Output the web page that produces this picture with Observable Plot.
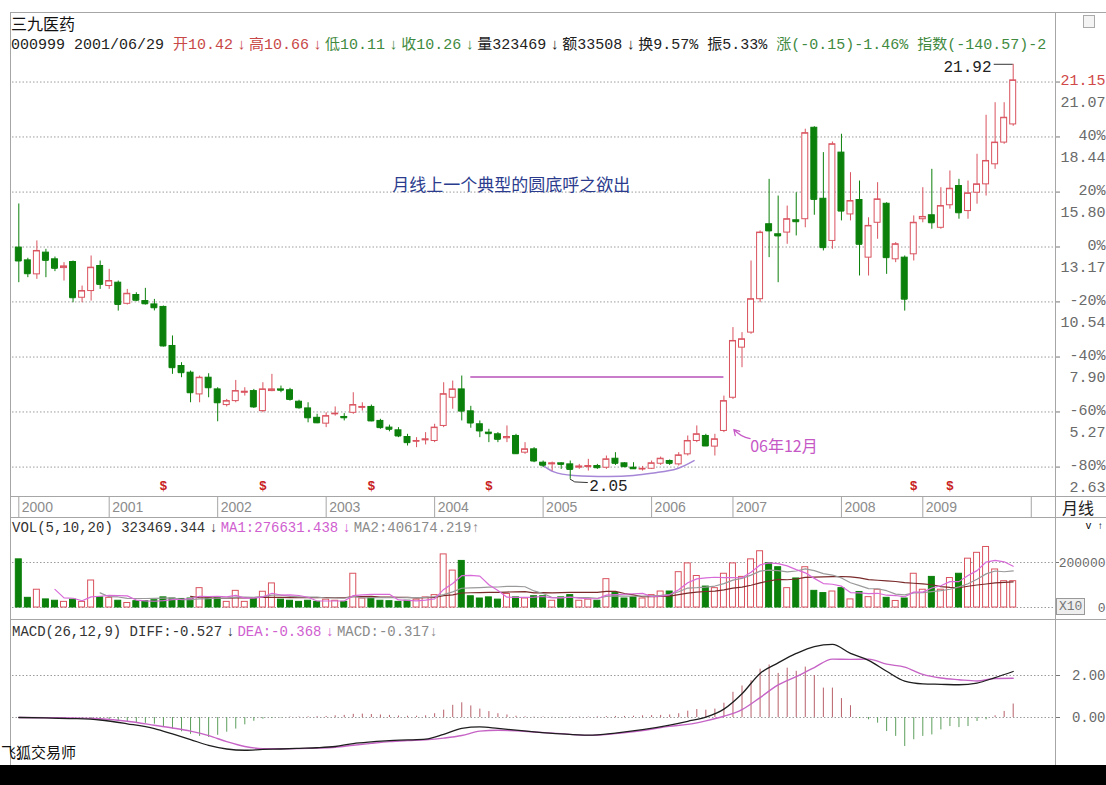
<!DOCTYPE html>
<html>
<head>
<meta charset="utf-8">
<script src="https://cdn.jsdelivr.net/npm/d3@7"></script>
<script src="https://cdn.jsdelivr.net/npm/@observablehq/plot@0.6"></script>
<style>
  html,body{margin:0;padding:0;background:#fff;}
  #root{position:relative;width:1106px;height:785px;overflow:hidden;background:#fff;}
  .abs{position:absolute;}
  .hl{position:absolute;height:0;border-top:1px solid #a6a6a6;}
  .vl{position:absolute;width:0;border-left:1px solid #a6a6a6;}
  .txt{position:absolute;white-space:pre;font-family:"Liberation Mono","Noto Sans CJK SC",monospace;color:#222;}
  .ar{display:inline-block;margin:0 3px 0 4px;}
  svg{display:block}
</style>
</head>
<body>
<div id="root"></div>
<script>
// ---------------- DATA ----------------
const yearLabels = ["2000","2001","2002","2003","2004","2005","2006","2007","2008","2009",""];
const yearStart  = [0, 10, 22, 34, 46, 58, 70, 79, 91, 100, 112];

const opens = [13.14,12.53,11.86,12.90,12.58,12.16,12.45,10.74,11.06,12.26,
  11.30,11.46,10.45,10.87,10.58,10.42,10.30,8.43,7.47,7.15,
  6.11,6.91,6.35,5.60,5.79,6.19,6.27,5.31,6.27,6.35,
  6.31,5.76,5.44,4.99,4.71,5.16,5.03,5.23,5.47,5.51,
  4.84,4.52,4.39,4.07,3.85,3.91,3.88,4.60,5.95,6.35,
  5.30,4.68,4.28,4.20,4.01,4.12,3.32,3.48,2.84,2.76,
  2.81,2.76,2.60,2.63,2.68,2.60,3.03,2.81,2.60,2.52,
  2.55,2.79,2.92,2.76,3.24,3.88,4.12,3.61,4.36,5.95,
  8.35,9.07,10.67,14.26,13.78,13.86,14.45,14.50,18.88,15.48,
  13.46,17.69,14.73,15.42,12.66,14.33,15.24,12.58,12.66,12.82,
  14.50,14.69,14.09,15.17,16.09,14.89,15.77,16.17,17.13,18.17,
  19.04];
const highs = [15.23,12.63,13.46,13.06,12.69,12.42,12.50,11.30,12.74,12.50,
  12.10,11.54,11.14,10.98,11.19,10.66,10.34,8.91,7.63,7.23,
  6.99,7.10,6.43,5.87,6.78,6.43,6.35,6.67,7.07,6.51,
  6.40,5.83,5.71,5.16,5.23,5.51,5.19,6.19,5.71,5.60,
  4.92,4.64,4.52,4.20,4.04,4.28,4.68,6.67,6.75,6.99,
  5.54,4.84,4.44,4.28,4.60,4.20,3.80,3.56,2.92,2.87,
  2.84,2.92,2.76,3.00,2.76,3.16,3.32,2.84,2.84,2.66,
  2.92,3.11,2.97,3.32,4.12,4.60,4.20,4.20,6.03,9.31,
  9.07,12.50,13.94,16.41,15.61,15.13,15.77,18.81,18.93,17.69,
  18.20,18.57,16.73,16.33,14.57,16.25,15.29,13.38,12.74,14.66,
  16.01,16.89,16.01,16.81,16.41,16.33,17.61,19.48,20.08,20.08,
  21.92];
const lows = [11.46,11.70,11.62,11.70,11.99,11.54,10.50,10.50,10.58,11.14,
  11.14,10.10,10.39,10.55,10.39,10.11,8.38,7.07,6.91,5.71,
  5.71,5.95,4.80,5.51,5.71,6.03,5.44,5.23,6.24,6.19,
  5.79,5.40,4.75,4.71,4.52,5.07,4.84,5.16,5.31,4.80,
  4.44,4.32,4.04,3.64,3.56,3.69,3.80,4.52,5.40,4.84,
  4.49,4.04,3.80,3.80,3.80,3.24,3.24,2.84,2.60,2.44,
  2.52,2.05,2.52,2.44,2.52,2.52,2.71,2.60,2.52,2.44,
  2.52,2.71,2.71,2.68,3.16,3.80,3.61,3.16,4.28,5.87,
  7.39,8.99,10.50,12.66,11.46,13.30,13.70,14.09,14.69,12.98,
  13.06,14.42,14.42,11.78,11.78,13.54,11.86,12.42,10.10,12.50,
  14.33,14.02,14.02,14.98,14.50,14.50,15.22,15.61,16.89,18.09,
  18.95];
const closes = [12.50,11.89,12.98,12.53,12.15,12.24,10.74,11.06,12.18,11.38,
  11.54,10.42,10.93,10.62,10.45,10.26,8.43,7.39,7.15,6.19,
  6.91,6.43,5.71,5.79,6.27,6.24,5.51,6.35,6.35,6.31,
  5.87,5.47,4.99,4.75,5.07,5.19,4.99,5.60,5.51,4.84,
  4.52,4.44,4.12,3.80,3.88,3.96,4.52,6.12,6.35,5.31,
  4.74,4.36,4.23,3.96,4.07,3.27,3.48,2.92,2.72,2.81,
  2.76,2.52,2.66,2.68,2.60,3.00,2.81,2.65,2.55,2.55,
  2.81,3.03,2.81,3.19,3.88,4.20,3.64,3.96,5.79,8.67,
  8.75,10.67,13.86,13.94,13.70,14.50,14.38,18.62,15.45,13.14,
  18.09,14.89,15.37,13.30,14.18,15.45,12.66,13.30,10.67,14.33,
  14.61,14.33,15.13,15.96,14.81,15.74,16.17,17.29,18.17,19.36,
  21.15];
const volumes = [2140000,430000,790000,360000,300000,250000,350000,250000,1200000,450000,
  430000,300000,200000,280000,280000,323469,450000,400000,380000,400000,
  860000,400000,450000,250000,740000,250000,400000,700000,1070000,350000,
  300000,250000,300000,250000,350000,300000,250000,1500000,400000,450000,
  300000,280000,250000,300000,350000,450000,550000,2360000,1640000,2070000,
  500000,400000,450000,350000,600000,450000,400000,500000,500000,300000,
  450000,550000,300000,350000,300000,1260000,640000,400000,450000,400000,
  550000,710000,710000,1570000,1960000,1400000,930000,860000,1500000,1960000,
  1360000,2140000,2500000,1970000,1790000,860000,1290000,1790000,740000,640000,
  710000,860000,360000,690000,460000,790000,430000,290000,400000,1500000,
  790000,1360000,790000,1310000,1500000,2170000,2430000,2690000,1690000,1170000,
  1170000];
const macdHist = [0,0,0,-0.01,-0.02,-0.03,-0.05,-0.06,-0.05,-0.08,
  -0.10,-0.15,-0.20,-0.25,-0.28,-0.317,-0.45,-0.55,-0.68,-0.80,
  -0.90,-0.95,-0.85,-0.70,-0.55,-0.35,-0.18,-0.08,-0.05,-0.02,
  0.02,0.02,0.03,0.04,0.05,0.08,0.10,0.15,0.16,0.14,
  0.12,0.10,0.07,0.06,0.06,0.08,0.18,0.35,0.58,0.70,
  0.55,0.40,0.28,0.18,0.12,0.06,0.03,0.02,0.02,0.01,
  -0.02,0.02,0.02,0.02,0.03,0.04,0.05,0.05,0.06,0.08,
  0.09,0.10,0.12,0.18,0.30,0.38,0.35,0.40,0.68,1.20,
  1.50,1.75,2.30,2.50,2.10,2.35,2.20,2.40,2.00,1.40,
  1.40,0.90,0.56,-0.05,-0.11,-0.27,-0.67,-0.90,-1.38,-1.06,
  -0.90,-0.83,-0.59,-0.43,-0.48,-0.43,-0.19,-0.11,0.08,0.29,
  0.64];
const macdIdx  = [0,3,6,9,12,15,17,19,21,23,25,27,29,31,33,35,37,39,41,43,45,47,49,51,53,55,57,60,63,66,69,72,74,76,78,80,82,84,86,88,90,92,94,96,98,100,102,104,106,108,110];
const diffVals = [0,-0.02,-0.05,-0.12,-0.30,-0.527,-0.78,-1.05,-1.33,-1.50,-1.56,-1.52,-1.50,-1.47,-1.44,-1.38,-1.24,-1.16,-1.10,-1.07,-1.03,-0.80,-0.52,-0.45,-0.52,-0.60,-0.68,-0.78,-0.84,-0.74,-0.58,-0.36,-0.18,0.02,0.40,1.13,2.10,2.60,3.05,3.38,3.48,3.05,2.72,2.20,1.73,1.60,1.58,1.56,1.64,1.90,2.19];
const deaVals  = [0,-0.01,-0.02,-0.06,-0.18,-0.368,-0.50,-0.65,-0.86,-1.15,-1.38,-1.48,-1.49,-1.48,-1.46,-1.42,-1.32,-1.23,-1.15,-1.10,-1.06,-0.98,-0.86,-0.65,-0.61,-0.63,-0.69,-0.77,-0.85,-0.77,-0.62,-0.42,-0.33,-0.16,0.06,0.38,0.95,1.55,1.95,2.38,2.78,2.77,2.78,2.54,2.40,2.05,1.88,1.80,1.74,1.86,1.87];

const gridPrices  = [2.63,5.27,7.90,10.54,13.17,15.80,18.44,21.07];
const priceLabels = ["2.63","5.27","7.90","10.54","13.17","15.80","18.44","21.07"];
const pctTicks    = [2.63,5.27,7.90,10.54,13.17,15.80,18.44];
const pctLabels   = ["-80%","-60%","-40%","-20%","0%","20%","40%"];
const volTicks    = [0, 2000000];
const volLabels   = ["0","200000"];
const macdTicks   = [0, 2];
const macdLabels  = ["0.00","2.00"];
const exRightsIdx = [16, 27, 39, 52, 99, 103];

// annotations (bar index / price units)
const neckline   = {from: 50, to: 78, price: 6.95};
const arcIdx     = [57.7, 59.2, 61.4, 65.1, 68.0, 70.6, 72.8, 74.7];
const arcPrice   = [2.80, 2.40, 2.23, 2.18, 2.23, 2.37, 2.55, 2.94];
const lowLeadIdx = [61, 61.5, 62.9];
const lowLeadPr  = [2.05, 1.92, 1.89];
const noteText   = "月线上一个典型的圆底呼之欲出";
const noteAt     = {i: 41.3, p: 16.12};
const monthText  = "06年12月";
const monthAt    = {i: 80.9, p: 3.59};
const monthArrow = {i1: 80.9, p1: 3.99, i2: 79.1, p2: 4.43};

// ---------------- DRAWING ----------------
const N = opens.length;
const bars = d3.range(N).map(i => ({i, o: opens[i], h: highs[i], l: lows[i], c: closes[i], v: volumes[i], up: closes[i] >= opens[i]}));
const upBars = bars.filter(d => d.up), dnBars = bars.filter(d => !d.up);
const RED = "#d9525e", GREEN = "#0b800b", GRID = "#9c9c9c";
const MONO = "Liberation Mono, Noto Sans CJK SC, monospace";
const CJK = "Noto Sans CJK SC, sans-serif";
const W = 1106, BW = 0.33, RIGHT_DX = 50;
const X = {domain: [0, N - 1], range: [18.3, 1012.7], axis: null};
const root = document.getElementById("root");

function place(el, top, left = 0) {
  const d = document.createElement("div");
  d.className = "abs"; d.style.top = top + "px"; d.style.left = left + "px";
  d.appendChild(el); root.appendChild(d); return d;
}
function line(cls, css) {
  const d = document.createElement("div"); d.className = cls;
  Object.assign(d.style, css); root.appendChild(d);
}
function html(css, inner) {
  const d = document.createElement("div"); d.className = "txt";
  Object.assign(d.style, css); d.innerHTML = inner; root.appendChild(d); return d;
}
const AR = s => `<span class="ar">${s}</span>`;

// ---- price panel ----
const pricePlot = Plot.plot({
  width: W, height: 440, marginLeft: 12, marginRight: 51, marginTop: 0, marginBottom: 0,
  x: X,
  y: {domain: [2.634, 21.072], range: [410.5, 25.5], axis: null},
  style: {background: "transparent", overflow: "visible", fontFamily: MONO},
  marks: [
    Plot.ruleY(gridPrices, {stroke: GRID, strokeDasharray: "1.5,2"}),
    Plot.axisY(gridPrices, {anchor: "right", tickSize: 4, tickFormat: () => "", stroke: "#777"}),
    Plot.text(pctTicks, {y: d => d, text: (d, i) => pctLabels[i], frameAnchor: "right", dx: RIGHT_DX, dy: -2, textAnchor: "end", fill: "#6a6a6a", fontSize: 15}),
    Plot.text(gridPrices, {y: d => d, text: (d, i) => priceLabels[i], frameAnchor: "right", dx: RIGHT_DX, dy: 20, textAnchor: "end", fill: "#6a6a6a", fontSize: 15}),
    Plot.text([closes[N - 1]], {y: d => d, text: d => d.toFixed(2), frameAnchor: "right", dx: RIGHT_DX, textAnchor: "end", fill: "#d04848", fontSize: 15}),
    // annotations behind candles
    Plot.ruleY([neckline], {y: "price", x1: "from", x2: "to", stroke: "#c97cc9", strokeWidth: 2}),
    Plot.line(arcIdx.map((x, k) => ({x, p: arcPrice[k]})), {x: "x", y: "p", curve: "natural", stroke: "#a686d6", strokeWidth: 1.5}),
    // candles
    Plot.ruleX(upBars, {x: "i", y1: "l", y2: "h", stroke: RED}),
    Plot.ruleX(dnBars, {x: "i", y1: "l", y2: "h", stroke: GREEN}),
    Plot.rect(upBars, {x1: d => d.i - BW, x2: d => d.i + BW, y1: "o", y2: "c", fill: "#fff", stroke: RED}),
    Plot.rect(dnBars, {x1: d => d.i - BW, x2: d => d.i + BW, y1: "o", y2: "c", fill: GREEN, stroke: GREEN}),
    Plot.ruleY(upBars, {y: "c", x1: d => d.i - BW, x2: d => d.i + BW, stroke: RED}),
    Plot.ruleY(dnBars, {y: "c", x1: d => d.i - BW, x2: d => d.i + BW, stroke: GREEN}),
    // labels
    Plot.line(lowLeadIdx.map((x, k) => ({x, p: lowLeadPr[k]})), {x: "x", y: "p", stroke: "#333", strokeWidth: 1}),
    Plot.text([lows[61]], {x: 63.1, y: d => d, text: d => d.toFixed(2), dy: 7, textAnchor: "start", fill: "#222", fontSize: 16}),
    Plot.ruleY([highs[N - 1]], {x1: 107.9, x2: N - 1, stroke: "#333"}),
    Plot.text([highs[N - 1]], {x: 107.6, y: d => d, text: d => d.toFixed(2), dy: 3, textAnchor: "end", fill: "#222", fontSize: 16}),
    Plot.text([noteText], {x: noteAt.i, y: noteAt.p, text: d => d, textAnchor: "start", fill: "#2b3c8e", fontSize: 17, fontFamily: CJK}),
    Plot.arrow([monthArrow], {x1: "i1", y1: "p1", x2: "i2", y2: "p2", bend: 18, headLength: 9, stroke: "#c658c6", strokeWidth: 1.2}),
    Plot.text([monthText], {x: monthAt.i, y: monthAt.p, text: d => d, textAnchor: "start", fill: "#c658c6", fontSize: 16, fontFamily: CJK}),
    Plot.text(exRightsIdx, {x: d => d, text: () => "$", frameAnchor: "bottom", dy: -7, fill: "#c82020", fontWeight: "bold", fontSize: 13})
  ]
});
place(pricePlot, 56);

// ---- year band ----
const yearPlot = Plot.plot({
  width: W, height: 21, marginLeft: 12, marginRight: 51, marginTop: 0, marginBottom: 0,
  x: X, y: {axis: null},
  style: {background: "transparent", overflow: "visible"},
  marks: [
    Plot.ruleX(yearStart, {x: d => d, stroke: "#a6a6a6"}),
    Plot.text(yearStart, {x: d => d, text: (d, i) => yearLabels[i], dx: 3, textAnchor: "start", fill: "#8c8c8c", fontSize: 14, fontFamily: "Liberation Sans, Arial, sans-serif"})
  ]
});
place(yearPlot, 497);

// ---- volume panel ----
const volPlot = Plot.plot({
  width: W, height: 99, marginLeft: 12, marginRight: 51, marginTop: 0, marginBottom: 0,
  x: X,
  y: {domain: [0, 2000000], range: [89, 44], axis: null},
  style: {background: "transparent", overflow: "visible", fontFamily: MONO},
  marks: [
    Plot.ruleY(volTicks, {stroke: GRID, strokeDasharray: "1.5,2"}),
    Plot.axisY(volTicks, {anchor: "right", tickSize: 3, tickFormat: () => "", stroke: "#777"}),
    Plot.text(volTicks, {y: d => d, text: (d, i) => volLabels[i], frameAnchor: "right", dx: RIGHT_DX, textAnchor: "end", fill: "#6a6a6a", fontSize: 13}),
    Plot.rect(upBars, {x1: d => d.i - BW, x2: d => d.i + BW, y1: 0, y2: "v", fill: "#fff", stroke: RED}),
    Plot.rect(dnBars, {x1: d => d.i - BW, x2: d => d.i + BW, y1: 0, y2: "v", fill: GREEN, stroke: GREEN}),
    Plot.lineY(bars, Plot.windowY({k: 20, anchor: "end", strict: true}, {x: "i", y: "v", stroke: "#7a2a2a", strokeWidth: 1.2})),
    Plot.lineY(bars, Plot.windowY({k: 10, anchor: "end", strict: true}, {x: "i", y: "v", stroke: "#9a9a9a", strokeWidth: 1.2})),
    Plot.lineY(bars, Plot.windowY({k: 5, anchor: "end", strict: true}, {x: "i", y: "v", stroke: "#d86ad8", strokeWidth: 1.2}))
  ]
});
place(volPlot, 518);

// ---- MACD panel ----
const histData = macdHist.map((h, i) => ({i, h}));
const macdPts = macdIdx.map((i, k) => ({i, diff: diffVals[k], dea: deaVals[k]}));
const macdPlot = Plot.plot({
  width: W, height: 145, marginLeft: 12, marginRight: 51, marginTop: 0, marginBottom: 0,
  x: X,
  y: {domain: [0, 2], range: [97, 55], axis: null},
  style: {background: "transparent", overflow: "visible", fontFamily: MONO},
  marks: [
    Plot.ruleY(macdTicks, {stroke: GRID, strokeDasharray: "1.5,2"}),
    Plot.axisY(macdTicks, {anchor: "right", tickSize: 4, tickFormat: () => "", stroke: "#777"}),
    Plot.text(macdTicks, {y: d => d, text: (d, i) => macdLabels[i], frameAnchor: "right", dx: RIGHT_DX, textAnchor: "end", fill: "#6a6a6a", fontSize: 14}),
    Plot.ruleX(histData.filter(d => d.h >= 0), {x: "i", y1: 0, y2: "h", stroke: "#b8606a"}),
    Plot.ruleX(histData.filter(d => d.h < 0), {x: "i", y1: 0, y2: "h", stroke: "#5c9e5c"}),
    Plot.line(macdPts, {x: "i", y: "dea", stroke: "#c664c6", strokeWidth: 1.4, curve: "monotone-x"}),
    Plot.line(macdPts, {x: "i", y: "diff", stroke: "#1e1e1e", strokeWidth: 1.3, curve: "monotone-x"})
  ]
});
place(macdPlot, 620);

// ---- frame lines ----
line("hl", {top: "12px", left: "10px", width: "1096px"});
line("vl", {top: "12px", left: "10px", height: "753px"});
line("vl", {top: "12px", left: "1055px", height: "753px"});
line("hl", {top: "496px", left: "10px", width: "1096px"});
line("hl", {top: "517px", left: "10px", width: "1096px"});
line("hl", {top: "619px", left: "10px", width: "1096px"});
const band = document.createElement("div");
Object.assign(band.style, {position: "absolute", left: "0", top: "765px", width: "1106px", height: "20px", background: "#000"});
root.appendChild(band);

// ---- texts ----
html({top: "13px", left: "11px", fontSize: "16px", fontFamily: CJK, color: "#111", lineHeight: "20px"}, "三九医药");
html({top: "37px", left: "11px", width: "1042px", overflow: "hidden", fontSize: "15px", lineHeight: "18px"},
  '<span style="color:#222">000999 2001/06/29 </span>' +
  '<span style="color:#c84848">开10.42' + AR("↓") + '高10.66' + AR("↓") + '</span>' +
  '<span style="color:#3f8a3f">低10.11' + AR("↓") + '收10.26' + AR("↓") + '</span>' +
  '<span style="color:#222">量323469' + AR("↓") + '额33508' + AR("↓") + '换9.57% 振5.33% </span>' +
  '<span style="color:#3f8a3f">涨(-0.15)-1.46% 指数(-140.57)-2</span>');
html({top: "520px", left: "12px", fontSize: "14px", lineHeight: "17px"},
  '<span style="color:#333">VOL(5,10,20) 323469.344' + AR("↓") + '</span>' +
  '<span style="color:#d060d0">MA1:276631.438' + AR("↓") + '</span>' +
  '<span style="color:#8a8a8a">MA2:406174.219↑</span>');
html({top: "624px", left: "12px", fontSize: "14px", lineHeight: "17px"},
  '<span style="color:#333">MACD(26,12,9) DIFF:-0.527' + AR("↓") + '</span>' +
  '<span style="color:#d060d0">DEA:-0.368' + AR("↓") + '</span>' +
  '<span style="color:#8a8a8a">MACD:-0.317↓</span>');
html({top: "497px", left: "1062px", fontSize: "16px", fontFamily: CJK, color: "#222", lineHeight: "20px"}, "月线");
html({top: "598px", left: "1056px", fontSize: "13px", color: "#777", lineHeight: "15px", border: "1px solid #999", background: "#eee", padding: "0 2px"}, "X10");
html({top: "742px", left: "1px", fontSize: "15px", fontFamily: CJK, color: "#111", lineHeight: "20px"}, "飞狐交易师");
const icon = document.createElement("div");
Object.assign(icon.style, {position: "absolute", left: "1083px", top: "15px", width: "10px", height: "11px", border: "1px solid #aaa", background: "#f4f4f4"});
root.appendChild(icon);
</script>
</body>
</html>
